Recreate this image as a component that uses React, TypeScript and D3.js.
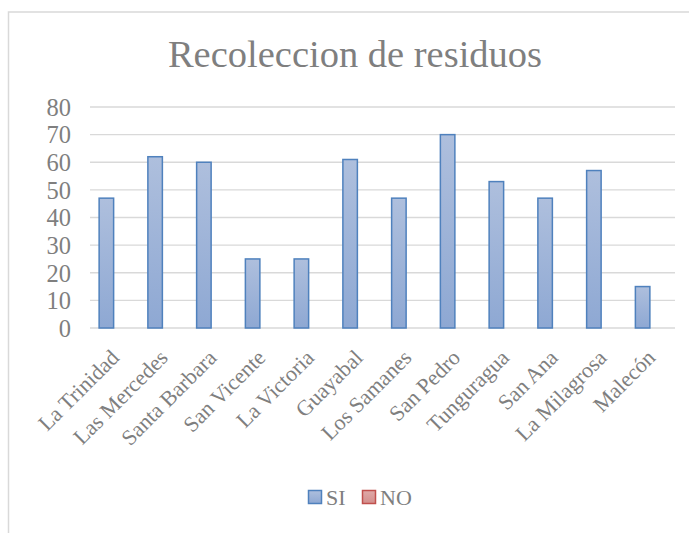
import React from 'react';
import * as d3 from 'd3';

const categories = [
  'La Trinidad', 'Las Mercedes', 'Santa Barbara', 'San Vicente', 'La Victoria', 'Guayabal',
  'Los Samanes', 'San Pedro', 'Tunguragua', 'San Ana', 'La Milagrosa', 'Malecón',
];
const siValues = [47, 62, 60, 25, 25, 61, 47, 70, 53, 47, 57, 15];
const noValues = [0, 0, 0, 0, 0, 0, 0, 0, 0, 0, 0, 0];
const seriesNames = ['SI', 'NO'];
const yTicks = [0, 10, 20, 30, 40, 50, 60, 70, 80];

const W = 689;
const H = 533;
const margin = { top: 107, right: 14, bottom: 205, left: 90 };
const FONT = '"Liberation Serif", "Times New Roman", serif';
const TEXT = '#7f7f7f';

export default function App() {
  const innerW = W - margin.left - margin.right;
  const innerH = H - margin.top - margin.bottom;

  const x = d3.scaleBand<string>().domain(categories).range([0, innerW]).paddingInner(0).paddingOuter(0);
  // SI bar sits left of the band centre, the empty NO bar on its right
  const x1 = d3.scaleBand<string>().domain(seriesNames).range([x.bandwidth() / 2 - 16, x.bandwidth() / 2 + 16]);
  const y = d3.scaleLinear().domain([0, 80]).range([innerH, 0]);

  return (
    <svg width={W} height={H} style={{ position: 'absolute', left: 0, top: 0, background: '#fff' }}>
      <defs>
        <linearGradient id="siFill" x1="0" y1="0" x2="0" y2="1">
          <stop offset="0%" stopColor="#aebfdd" />
          <stop offset="100%" stopColor="#8ea8d3" />
        </linearGradient>
        <linearGradient id="noFill" x1="0" y1="0" x2="0" y2="1">
          <stop offset="0%" stopColor="#dfa9a8" />
          <stop offset="100%" stopColor="#d38e8c" />
        </linearGradient>
      </defs>
      {/* chart border */}
      <rect x={8.5} y={12} width={W} height={H} fill="none" stroke="#d9d9d9" strokeWidth={1.5} />

      <text x={355} y={67} textAnchor="middle" fontFamily={FONT} fontSize={38.5} fill={TEXT}>
        Recoleccion de residuos
      </text>

      <g transform={`translate(${margin.left},${margin.top})`}>
        {yTicks.map(t => (
          <g key={t}>
            <line x1={0} x2={innerW} y1={y(t)} y2={y(t)} stroke="#d9d9d9" strokeWidth={1.3} />
            <text x={-19} y={y(t)} dy="0.36em" textAnchor="end" fontFamily={FONT} fontSize={24.5} fill={TEXT}>
              {t}
            </text>
          </g>
        ))}

        {categories.map((c, i) => {
          const bx = (x(c) ?? 0) + (x1('SI') ?? 0);
          return (
            <rect key={c} x={bx + 0.75} y={y(siValues[i])} width={x1.bandwidth() - 1.5}
              height={innerH - y(siValues[i])} fill="url(#siFill)" stroke="#4f81bd" strokeWidth={1.5} />
          );
        })}
        {categories.map((c, i) => noValues[i] > 0 ? (
          <rect key={c + 'no'} x={(x(c) ?? 0) + (x1('NO') ?? 0)} y={y(noValues[i])} width={x1.bandwidth()}
            height={innerH - y(noValues[i])} fill="url(#noFill)" stroke="#c0504d" strokeWidth={1.5} />
        ) : null)}

        {categories.map(c => {
          const cx = (x(c) ?? 0) + x.bandwidth() / 2 + 6;
          return (
            <text key={c} transform={`translate(${cx},${innerH + 31}) rotate(-45)`} textAnchor="end"
              fontFamily={FONT} fontSize={22} fill={TEXT}>
              {c}
            </text>
          );
        })}
      </g>

      <g transform="translate(308,490)">
        <rect x={0.5} y={0.5} width={13} height={13} fill="url(#siFill)" stroke="#4f81bd" strokeWidth={1.5} />
        <text x={18} y={15} fontFamily={FONT} fontSize={22} fill={TEXT}>SI</text>
        <rect x={54.5} y={0.5} width={13} height={13} fill="url(#noFill)" stroke="#c0504d" strokeWidth={1.5} />
        <text x={72} y={15} fontFamily={FONT} fontSize={22} fill={TEXT}>NO</text>
      </g>
    </svg>
  );
}
